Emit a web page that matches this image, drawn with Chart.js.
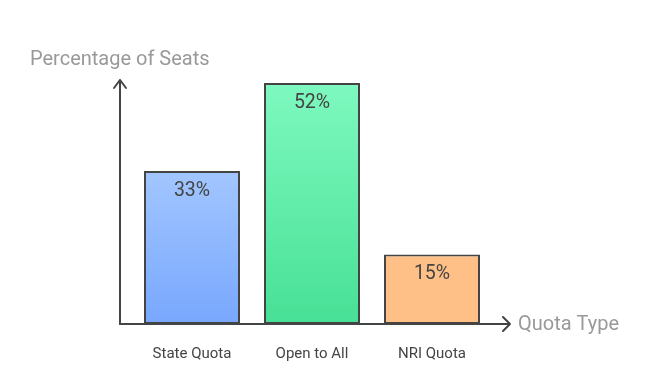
<!DOCTYPE html>
<html>
<head>
<meta charset="utf-8">
<script src="https://cdn.jsdelivr.net/npm/chart.js@4.4.1/dist/chart.umd.min.js"></script>
<style>
  html, body { margin: 0; padding: 0; background: #fff; }
  #wrap { width: 648px; height: 381px; position: relative; }
</style>
</head>
<body>
<div id="wrap"><canvas id="grafico"></canvas></div>
<script>
// dados do grafico
const categorias = ['State Quota', 'Open to All', 'NRI Quota']
const percentuais = [33, 52, 15]
const rotulos = ['33%', '52%', '15%']
const tituloY = 'Percentage of Seats'
const tituloX = 'Quota Type'

// cores (topo, base) de cada barra
const coresTopo = ['#a2c6ff', '#7ef9bf', '#ffc088']
const coresBase = ['#78a7fd', '#47e095', '#ffc088']

const corEixo = '#444'
const corTitulo = '#999'

function gradiente(ctx) {
    const chart = ctx.chart
    const area = chart.chartArea
    if (!area) return coresBase[ctx.dataIndex]
    const y = chart.scales.y
    const i = ctx.dataIndex
    const topo = y.getPixelForValue(percentuais[i])
    const base = y.getPixelForValue(0)
    const g = chart.ctx.createLinearGradient(0, topo, 0, base)
    g.addColorStop(0, coresTopo[i])
    g.addColorStop(1, coresBase[i])
    return g
}

// desenha eixos com setas, titulos e valores dentro das barras
const extras = {
    id: 'extras',
    afterDatasetsDraw(chart) {
        const c = chart.ctx
        const area = chart.chartArea
        const x0 = area.left - 12
        const y0 = area.bottom
        c.save()
        c.strokeStyle = corEixo
        c.lineWidth = 2
        c.lineCap = 'round'
        c.lineJoin = 'round'
        // eixo y
        c.beginPath()
        c.moveTo(x0, y0)
        c.lineTo(x0, 80)
        c.moveTo(x0 - 6, 88)
        c.lineTo(x0, 80)
        c.lineTo(x0 + 6, 88)
        c.stroke()
        // eixo x
        c.beginPath()
        c.moveTo(x0, y0)
        c.lineTo(510, y0)
        c.moveTo(503, y0 - 7)
        c.lineTo(510, y0)
        c.lineTo(503, y0 + 7)
        c.stroke()

        // titulos
        c.fillStyle = corTitulo
        c.font = '20px Roboto'
        c.textBaseline = 'middle'
        c.textAlign = 'left'
        c.fillText(tituloY, 30, 60)
        c.fillText(tituloX, 518, y0 + 1)

        // valores
        const meta = chart.getDatasetMeta(0)
        c.fillStyle = corEixo
        c.font = '19.5px Roboto'
        c.textAlign = 'center'
        meta.data.forEach((bar, i) => {
            c.fillText(rotulos[i], bar.x, bar.y + 20)
        })
        c.restore()
    }
}

const ctx = document.getElementById('grafico').getContext('2d')
const grafico = new Chart(ctx, {
    type: 'bar',
    data: {
        labels: categorias,
        datasets: [{
            data: percentuais,
            backgroundColor: gradiente,
            borderColor: corEixo,
            borderWidth: 2,
            borderSkipped: false,
            barPercentage: 0.8,
            categoryPercentage: 1
        }]
    },
    options: {
        responsive: true,
        maintainAspectRatio: false,
        animation: false,
        layout: {
            padding: { top: 83, left: 132, right: 156, bottom: 0 }
        },
        plugins: {
            legend: { display: false },
            tooltip: { enabled: false }
        },
        scales: {
            x: {
                grid: { display: false, drawTicks: false },
                border: { display: false },
                afterFit(scale) { scale.height = 57 },
                ticks: {
                    color: corEixo,
                    font: { family: 'Roboto', size: 15 },
                    padding: 21
                }
            },
            y: {
                display: false,
                min: 0,
                max: 52
            }
        }
    },
    plugins: [extras]
})
</script>
</body>
</html>
